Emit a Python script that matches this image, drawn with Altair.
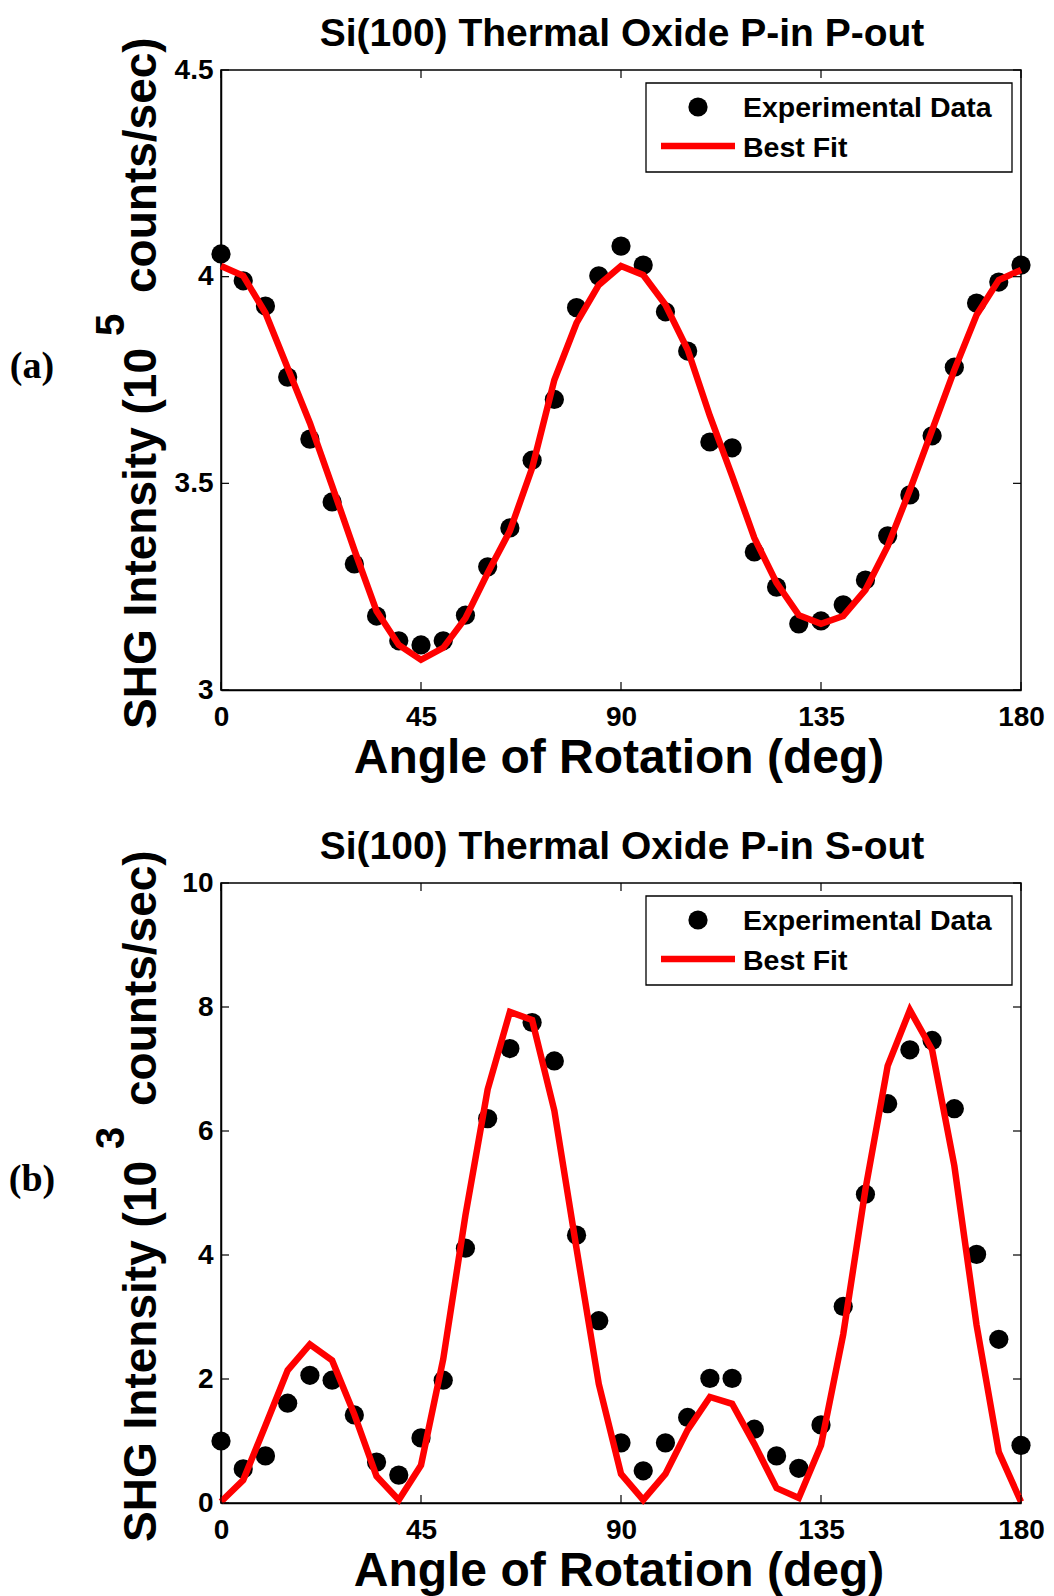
import altair as alt
import pandas as pd

# ---------------- data ----------------
angles = list(range(0, 181, 5))

pp_data = [4.055, 3.990, 3.929, 3.757, 3.607, 3.455, 3.305, 3.179, 3.119, 3.109,
           3.119, 3.181, 3.298, 3.392, 3.556, 3.703, 3.925, 4.002, 4.074, 4.028,
           3.915, 3.820, 3.600, 3.586, 3.334, 3.249, 3.160, 3.167, 3.206, 3.266,
           3.373, 3.472, 3.615, 3.781, 3.936, 3.987, 4.028]
pp_fit = [4.026, 4.002, 3.912, 3.779, 3.646, 3.494, 3.339, 3.191, 3.109, 3.073,
          3.102, 3.174, 3.283, 3.385, 3.537, 3.750, 3.888, 3.980, 4.026, 4.004,
          3.932, 3.823, 3.663, 3.518, 3.368, 3.259, 3.181, 3.160, 3.179, 3.242,
          3.348, 3.484, 3.629, 3.774, 3.907, 3.992, 4.016]

ps_data = [1.00, 0.55, 0.76, 1.61, 2.06, 1.98, 1.42, 0.66, 0.45, 1.05,
           1.98, 4.11, 6.20, 7.33, 7.75, 7.13, 4.32, 2.94, 0.97, 0.52,
           0.97, 1.38, 2.01, 2.01, 1.19, 0.76, 0.56, 1.26, 3.17, 4.98,
           6.44, 7.31, 7.46, 6.36, 4.01, 2.64, 0.93]
ps_fit = [0.02, 0.37, 1.25, 2.14, 2.56, 2.30, 1.43, 0.43, 0.05, 0.61,
          2.32, 4.64, 6.67, 7.92, 7.79, 6.33, 4.10, 1.92, 0.47, 0.05,
          0.47, 1.18, 1.71, 1.60, 0.95, 0.24, 0.08, 0.93, 2.72, 5.06,
          7.05, 7.95, 7.31, 5.44, 2.87, 0.82, 0.02]

x_ticks = [0, 45, 90, 135, 180]
pp_yticks = [3, 3.5, 4, 4.5]
ps_yticks = [0, 2, 4, 6, 8, 10]
pp_domain = [3, 4.5]
ps_domain = [0, 10]

titles = ["Si(100) Thermal Oxide P-in P-out", "Si(100) Thermal Oxide P-in S-out"]
tags = ["(a)", "(b)"]
ylabel_main = "SHG Intensity (10"
ylabel_sup = ["5", "3"]
ylabel_tail = "counts/sec)"
xlabel = "Angle of Rotation (deg)"
legend_labels = ["Experimental Data", "Best Fit"]

W, H = 800, 620
FONT = "Liberation Sans"


def text_layer(s, x, y, size, **kw):
    return alt.Chart(pd.DataFrame({"s": [s]})).mark_text(
        font=kw.pop("font", FONT), fontSize=size, fontWeight="bold", color="black", **kw
    ).encode(x=alt.value(x), y=alt.value(y), text="s:N")


def panel(data_vals, fit_vals, domain, yticks, title, sup, tag):
    df = pd.DataFrame({"angle": angles, "data": data_vals, "fit": fit_vals})
    xscale = alt.Scale(domain=[0, 180], nice=False, zero=False)
    yscale = alt.Scale(domain=domain, nice=False, zero=False)
    common = dict(title=None, labelExpr="datum.value", grid=False, ticks=False,
                  labelFontSize=28, labelFont=FONT, labelFontWeight="bold",
                  labelColor="black", domainColor="black", domainWidth=1.5,
                  labelFlush=False, labelOverlap=False)
    xaxis = alt.Axis(values=x_ticks, labelPadding=13, **common)
    yaxis = alt.Axis(values=yticks, labelPadding=8, **common)

    pts = alt.Chart(df).mark_circle(size=370, color="black", opacity=1).encode(
        x=alt.X("angle:Q", scale=xscale, axis=xaxis),
        y=alt.Y("data:Q", scale=yscale, axis=yaxis),
    )
    line = alt.Chart(df).mark_line(color="#ff0000", strokeWidth=6.5).encode(
        x=alt.X("angle:Q", scale=xscale, axis=xaxis),
        y=alt.Y("fit:Q", scale=yscale, axis=yaxis),
    )

    xt = pd.DataFrame({"t": x_ticks})
    yt = pd.DataFrame({"t": yticks})
    tick_style = dict(color="black", strokeWidth=1.2)
    bt = alt.Chart(xt).mark_rule(**tick_style).encode(
        x=alt.X("t:Q", scale=xscale, axis=xaxis), y=alt.value(H), y2=alt.value(H - 8))
    tt = alt.Chart(xt).mark_rule(**tick_style).encode(
        x=alt.X("t:Q", scale=xscale, axis=xaxis), y=alt.value(0), y2=alt.value(8))
    lt = alt.Chart(yt).mark_rule(**tick_style).encode(
        y=alt.Y("t:Q", scale=yscale, axis=yaxis), x=alt.value(0), x2=alt.value(8))
    rt = alt.Chart(yt).mark_rule(**tick_style).encode(
        y=alt.Y("t:Q", scale=yscale, axis=yaxis), x=alt.value(W), x2=alt.value(W - 8))

    # legend (manual, MATLAB style)
    lg_box = alt.Chart(pd.DataFrame({"a": [0]})).mark_rect(
        fill="white", stroke="black", strokeWidth=1.3
    ).encode(x=alt.value(425), x2=alt.value(791), y=alt.value(13), y2=alt.value(102))
    lg_pt = alt.Chart(pd.DataFrame({"a": [0]})).mark_circle(
        size=370, color="black", opacity=1
    ).encode(x=alt.value(477), y=alt.value(37))
    lg_ln = alt.Chart(pd.DataFrame({"a": [0]})).mark_rule(
        color="#ff0000", strokeWidth=6.5
    ).encode(x=alt.value(440), x2=alt.value(514), y=alt.value(76))
    lg_t1 = text_layer(legend_labels[0], 522, 38, 28.5, align="left", baseline="middle")
    lg_t2 = text_layer(legend_labels[1], 522, 78, 28.5, align="left", baseline="middle")

    ttl = text_layer(title, 401, -24, 39, align="center", baseline="alphabetic")
    xl = text_layer(xlabel, 398, H + 83, 48, align="center", baseline="alphabetic")
    y1 = text_layer(ylabel_main, -65, 278, 46, angle=270, align="right", baseline="alphabetic")
    y2 = text_layer(sup, -97, 266, 40, angle=270, align="left", baseline="alphabetic")
    y3 = text_layer(ylabel_tail, -65, 223, 46, angle=270, align="left", baseline="alphabetic")
    tg = text_layer(tag, -189, 297, 38, align="center", baseline="middle",
                    font="Liberation Serif")

    return alt.layer(pts, line, bt, tt, lt, rt, lg_box, lg_pt, lg_ln, lg_t1, lg_t2,
                     ttl, xl, y1, y2, y3, tg).properties(width=W, height=H)


top = panel(pp_data, pp_fit, pp_domain, pp_yticks, titles[0], ylabel_sup[0], tags[0])
bottom = panel(ps_data, ps_fit, ps_domain, ps_yticks, titles[1], ylabel_sup[1], tags[1])

chart = alt.vconcat(top, bottom, spacing=193, bounds="flush").properties(
    padding={"left": 8, "top": 14, "right": 5, "bottom": 5},
    background="white",
).configure_view(
    stroke="black", strokeWidth=1.5
).configure_axis(
    grid=False, ticks=False, labelFontSize=28, labelFontWeight="bold",
    labelColor="black", domainColor="black", domainWidth=1.5
)

chart.save("out.html", embed_options={"renderer": "svg", "actions": False})
